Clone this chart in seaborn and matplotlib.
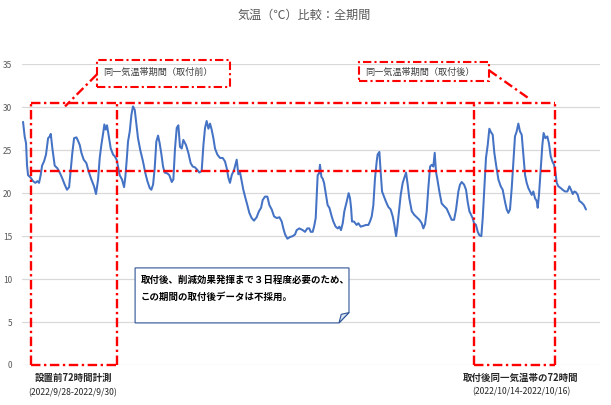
import numpy as np
import pandas as pd
import matplotlib
matplotlib.use("Agg")
import matplotlib.pyplot as plt
from matplotlib.patches import Rectangle, Polygon
import seaborn as sns

# ---- data (hours from start, air temperature in degC) ----
hours_a = [0.0, 1.4, 2.6, 3.4, 4.3, 6.6, 8.6, 10.6, 12.4, 13.8,
           15.2, 16.4, 18.1, 19.8, 21.6, 23.0, 23.9, 25.3, 27.3, 29.6,
           31.6, 33.6, 35.9, 37.9, 39.7, 41.1, 42.5, 44.0, 46.0, 47.4,
           48.9, 50.3, 52.3, 54.6, 56.6, 58.9, 61.2, 62.9, 64.7, 66.1,
           67.5, 69.3, 70.1, 71.3, 72.4, 73.9, 75.6, 77.6, 79.0, 80.7,
           81.9, 83.3, 85.3, 87.1, 88.2, 89.4, 90.5, 92.0, 93.4, 94.8,
           96.3, 97.7, 99.1, 101.1, 103.4, 105.5, 107.2, 109.2, 110.6, 112.1,
           113.5, 114.9, 116.4, 117.8, 119.3, 120.7, 122.1, 124.4]
temp_a = [28.3, 26.6, 25.8, 23.3, 22.1, 21.8, 21.4, 21.2, 21.4, 21.2,
          22.1, 23.2, 23.7, 24.5, 26.4, 26.6, 26.9, 25.2, 23.2, 22.9,
          22.4, 21.8, 21.0, 20.4, 20.7, 22.7, 24.7, 26.4, 26.5, 26.1,
          25.6, 24.7, 23.9, 23.5, 22.5, 21.6, 20.8, 19.9, 21.6, 24.1,
          25.6, 27.2, 28.0, 27.4, 27.9, 26.6, 25.2, 24.5, 24.3, 23.9,
          23.1, 22.1, 21.6, 20.7, 21.9, 23.9, 26.0, 27.2, 29.1, 30.1,
          29.7, 28.1, 26.4, 25.0, 23.7, 22.3, 21.4, 20.6, 20.4, 21.0,
          22.9, 26.0, 26.7, 25.8, 24.5, 23.1, 22.4, 22.3]

hours_b = [126.1, 128.2, 129.6, 131.0, 132.5, 133.9, 135.3, 136.8, 138.2, 140.5,
           142.5, 144.5, 146.3, 148.3, 150.3, 152.0, 154.0, 155.5, 156.9, 158.3,
           159.8, 161.2, 162.6, 164.1, 165.5, 167.5, 169.8, 172.1, 174.1, 175.6,
           177.0, 178.4, 179.9, 181.9, 184.2, 185.6, 187.1, 188.5, 189.9, 191.4,
           193.4, 195.1, 197.1, 199.1, 201.4, 203.4, 205.2, 206.6, 208.6, 210.6,
           212.4, 214.4, 216.4, 218.7, 221.0, 223.0, 224.4, 225.9, 227.9, 230.2,
           232.5, 234.5, 235.9, 238.2, 241.1, 243.1, 245.1, 246.8]
temp_b = [22.1, 21.3, 21.6, 25.2, 27.6, 27.9, 25.4, 25.2, 26.2, 25.6,
          24.7, 23.5, 23.1, 23.0, 22.7, 22.4, 22.6, 25.6, 27.6, 28.4,
          27.5, 28.1, 27.4, 26.4, 25.2, 24.5, 24.1, 24.1, 23.7, 22.9,
          21.8, 21.2, 22.1, 22.7, 23.9, 22.2, 22.4, 21.4, 20.4, 19.6,
          18.6, 17.7, 17.1, 16.8, 17.2, 17.9, 18.3, 19.2, 19.6, 19.6,
          18.6, 18.1, 17.3, 17.1, 17.2, 16.7, 15.9, 15.2, 14.7, 14.9,
          15.0, 15.2, 15.7, 15.9, 15.7, 15.5, 15.9, 15.9]

hours_c = [248.0, 249.7, 250.9, 252.3, 253.2, 254.0, 255.2, 256.0, 257.2, 258.3,
           259.5, 261.2, 262.6, 264.1, 266.1, 267.5, 269.5, 271.3, 272.7, 274.1,
           275.6, 277.0, 279.0, 280.7, 281.9, 282.8, 283.6, 285.3, 287.6, 289.1,
           291.1, 293.4, 295.7, 297.7, 299.1, 300.6, 302.0, 303.4, 304.9, 305.7,
           307.2, 308.3, 309.5, 311.2, 312.9, 314.9, 316.9, 318.7, 320.1, 321.6,
           322.7, 324.1, 325.6, 327.3, 328.7, 330.2, 331.6, 333.0, 335.1, 337.1,
           339.4, 341.7, 343.7, 345.1, 346.6, 348.0, 349.4, 350.9, 352.3, 353.7,
           354.9, 356.0, 357.2, 358.9, 360.9, 362.9, 365.2, 367.5]
temp_c = [15.5, 15.5, 16.1, 17.1, 19.8, 22.1, 22.3, 23.3, 21.9, 21.7,
          21.2, 19.8, 18.6, 18.3, 17.3, 16.7, 16.1, 15.9, 16.1, 15.7,
          16.5, 17.9, 19.0, 20.0, 19.4, 18.3, 16.7, 16.7, 16.3, 16.5,
          16.1, 16.2, 16.3, 16.3, 16.7, 17.3, 18.6, 21.7, 23.7, 24.5,
          24.8, 22.5, 20.2, 19.6, 19.0, 18.4, 18.1, 17.3, 16.3, 15.0,
          16.1, 17.9, 19.8, 21.2, 21.8, 22.4, 21.0, 19.4, 17.9, 17.5,
          17.2, 16.9, 16.5, 15.9, 16.4, 17.9, 20.6, 23.1, 23.3, 23.1,
          24.7, 22.5, 21.6, 20.2, 18.8, 18.5, 18.2, 17.5]

hours_d = [369.5, 371.6, 373.3, 375.3, 376.7, 378.2, 380.2, 381.9, 383.3, 384.8,
           386.2, 387.6, 388.8, 390.5, 392.0, 393.4, 395.1, 396.3, 397.7, 399.1,
           400.6, 402.0, 403.4, 404.9, 406.3, 407.8, 409.8, 411.8, 413.5, 415.5,
           417.0, 418.4, 419.8, 421.3, 422.7, 424.1, 425.6, 427.0, 428.4, 429.9,
           431.3, 432.8, 434.2, 435.6, 437.1, 438.5, 439.9, 441.4, 442.8, 443.7,
           444.8, 446.3, 447.7, 448.8, 450.3, 452.0, 453.4, 454.9, 456.3, 457.8,
           458.9, 460.1, 461.5, 463.5, 465.2, 467.2, 469.3, 471.0, 472.4, 473.9,
           475.3, 476.7, 478.2, 479.6, 481.6, 483.6, 485.3]
temp_d = [16.9, 16.9, 18.1, 20.2, 21.0, 21.3, 21.0, 20.4, 19.0, 17.9,
          17.5, 17.1, 16.5, 16.3, 15.5, 15.1, 15.0, 17.1, 20.6, 24.1,
          25.6, 27.5, 27.1, 26.8, 24.7, 23.3, 21.6, 20.8, 20.4, 19.0,
          18.1, 17.7, 18.1, 20.6, 23.7, 26.6, 27.2, 28.1, 27.2, 26.8,
          24.5, 22.1, 21.2, 20.6, 20.2, 19.8, 20.2, 19.4, 19.1, 18.3,
          19.8, 22.9, 25.6, 27.0, 26.4, 26.6, 25.8, 24.3, 23.7, 23.3,
          22.5, 21.2, 20.8, 20.6, 20.4, 20.2, 20.2, 20.8, 20.4, 19.9,
          20.2, 20.1, 19.8, 19.1, 18.9, 18.6, 18.1]

y_ticks = [0, 5, 10, 15, 20, 25, 30, 35]

title_text = "気温（℃）比較：全期間"
callout_before = "同一気温帯期間（取付前）"
callout_after = "同一気温帯期間（取付後）"
note_lines = ["取付後、削減効果発揮まで３日程度必要のため、",
              "この期間の取付後データは不採用。"]
label_before = ["設置前72時間計測", "(2022/9/28-2022/9/30)"]
label_after = ["取付後同一気温帯の72時間", "(2022/10/14-2022/10/16)"]

# ---- build table ----
segs = [(hours_a, temp_a), (hours_b, temp_b), (hours_c, temp_c), (hours_d, temp_d)]
hh, tt = [], []
for h, t in segs:
    n = min(len(h), len(t))
    hh += h[:n]
    tt += t[:n]
df = pd.DataFrame({"hour": hh, "temp": tt})

sns.set_theme(style="white")
plt.rcParams["font.family"] = ["Noto Sans CJK JP", "DejaVu Sans"]

fig = plt.figure(figsize=(6.11, 4.05), dpi=100)
ax = fig.add_axes([22 / 611, 40 / 405, (600 - 22) / 611, (365 - 64.3) / 405])

sns.lineplot(data=df, x="hour", y="temp", color="#4472C4", linewidth=1.45,
             estimator=None, ax=ax, zorder=3)

ax.set_xlim(-0.9, 497.4)
ax.set_ylim(0, 35)
ax.set_yticks(y_ticks)
ax.set_xticks([])
ax.set_xlabel("")
ax.set_ylabel("")
ax.yaxis.grid(True, color="#D9D9D9", linewidth=0.9)
ax.set_axisbelow(True)
for s in ax.spines.values():
    s.set_visible(False)
ax.tick_params(axis="y", labelsize=6, labelcolor="#595959", length=0, pad=7)

RED = "#FF0000"
DD = (0, (4, 1.5, 1, 1.5))
kw = dict(color=RED, linewidth=1.7, linestyle=DD, clip_on=False, zorder=4)

xl0, xl1 = 6.9, 81.0
xr0, xr1 = 388.8, 458.6
ytop, ymid = 30.5, 22.55
ax.plot([xl0, xr1], [ytop, ytop], **kw)
ax.plot([xl0, xr1], [ymid, ymid], **kw)
for xv in (xl0, xl1, xr0, xr1):
    ax.plot([xv, xv], [0, ytop], **kw)
ax.plot([xl0, xl1], [0, 0], **kw)
ax.plot([xr0, xr1], [0, 0], **kw)

# callout boxes
kw2 = dict(edgecolor=RED, facecolor="none", linewidth=1.5, linestyle=DD,
           clip_on=False, zorder=4)
ax.add_patch(Rectangle((63.8, 32.4), 178.4 - 63.8, 35.5 - 32.4, **kw2))
ax.add_patch(Rectangle((289.7, 33.0), 401.7 - 289.7, 35.3 - 33.0, **kw2))
ax.plot([63.5, 36.2], [33.8, 30.1], **kw)
ax.plot([401.7, 435.3], [34.3, 31.1], **kw)
ax.text(116.4, 34.1, callout_before, fontsize=6.6, color="#404040",
        ha="center", va="center", clip_on=False)
ax.text(342.2, 34.1, callout_after, fontsize=6.6, color="#404040",
        ha="center", va="center", clip_on=False)

# note box with folded corner
note = Polygon([(96.6, 11.3), (281.0, 11.3), (281.0, 6.1), (272.4, 4.9), (96.6, 4.9)],
               closed=True, facecolor="white", edgecolor="#2F5597", linewidth=0.8, zorder=5)
ax.add_patch(note)
fold = Polygon([(272.4, 4.9), (274.3, 5.9), (281.0, 6.1)], closed=True,
               facecolor="#DAE3F3", edgecolor="#2F5597", linewidth=0.8, zorder=6)
ax.add_patch(fold)
ax.text(101.7, 9.9, note_lines[0], fontsize=6.8, fontweight="bold", color="black",
        ha="left", va="center", zorder=7)
ax.text(101.7, 7.9, note_lines[1], fontsize=6.8, fontweight="bold", color="black",
        ha="left", va="center", zorder=7)

# bottom labels
ax.text(43.1, -1.5, label_before[0], fontsize=6.8, fontweight="bold", color="#262626",
        ha="center", va="center", clip_on=False)
ax.text(43.1, -3.25, label_before[1], fontsize=6.2, color="#262626",
        ha="center", va="center", clip_on=False)
ax.text(429.3, -1.5, label_after[0], fontsize=6.8, fontweight="bold", color="#262626",
        ha="center", va="center", clip_on=False)
ax.text(429.3, -3.15, label_after[1], fontsize=6.2, color="#262626",
        ha="center", va="center", clip_on=False)

fig.text(304 / 611, 1 - 15 / 405, title_text, fontsize=8.7, color="#595959",
         ha="center", va="center")

fig.savefig("out.png", dpi=100, facecolor="white")
